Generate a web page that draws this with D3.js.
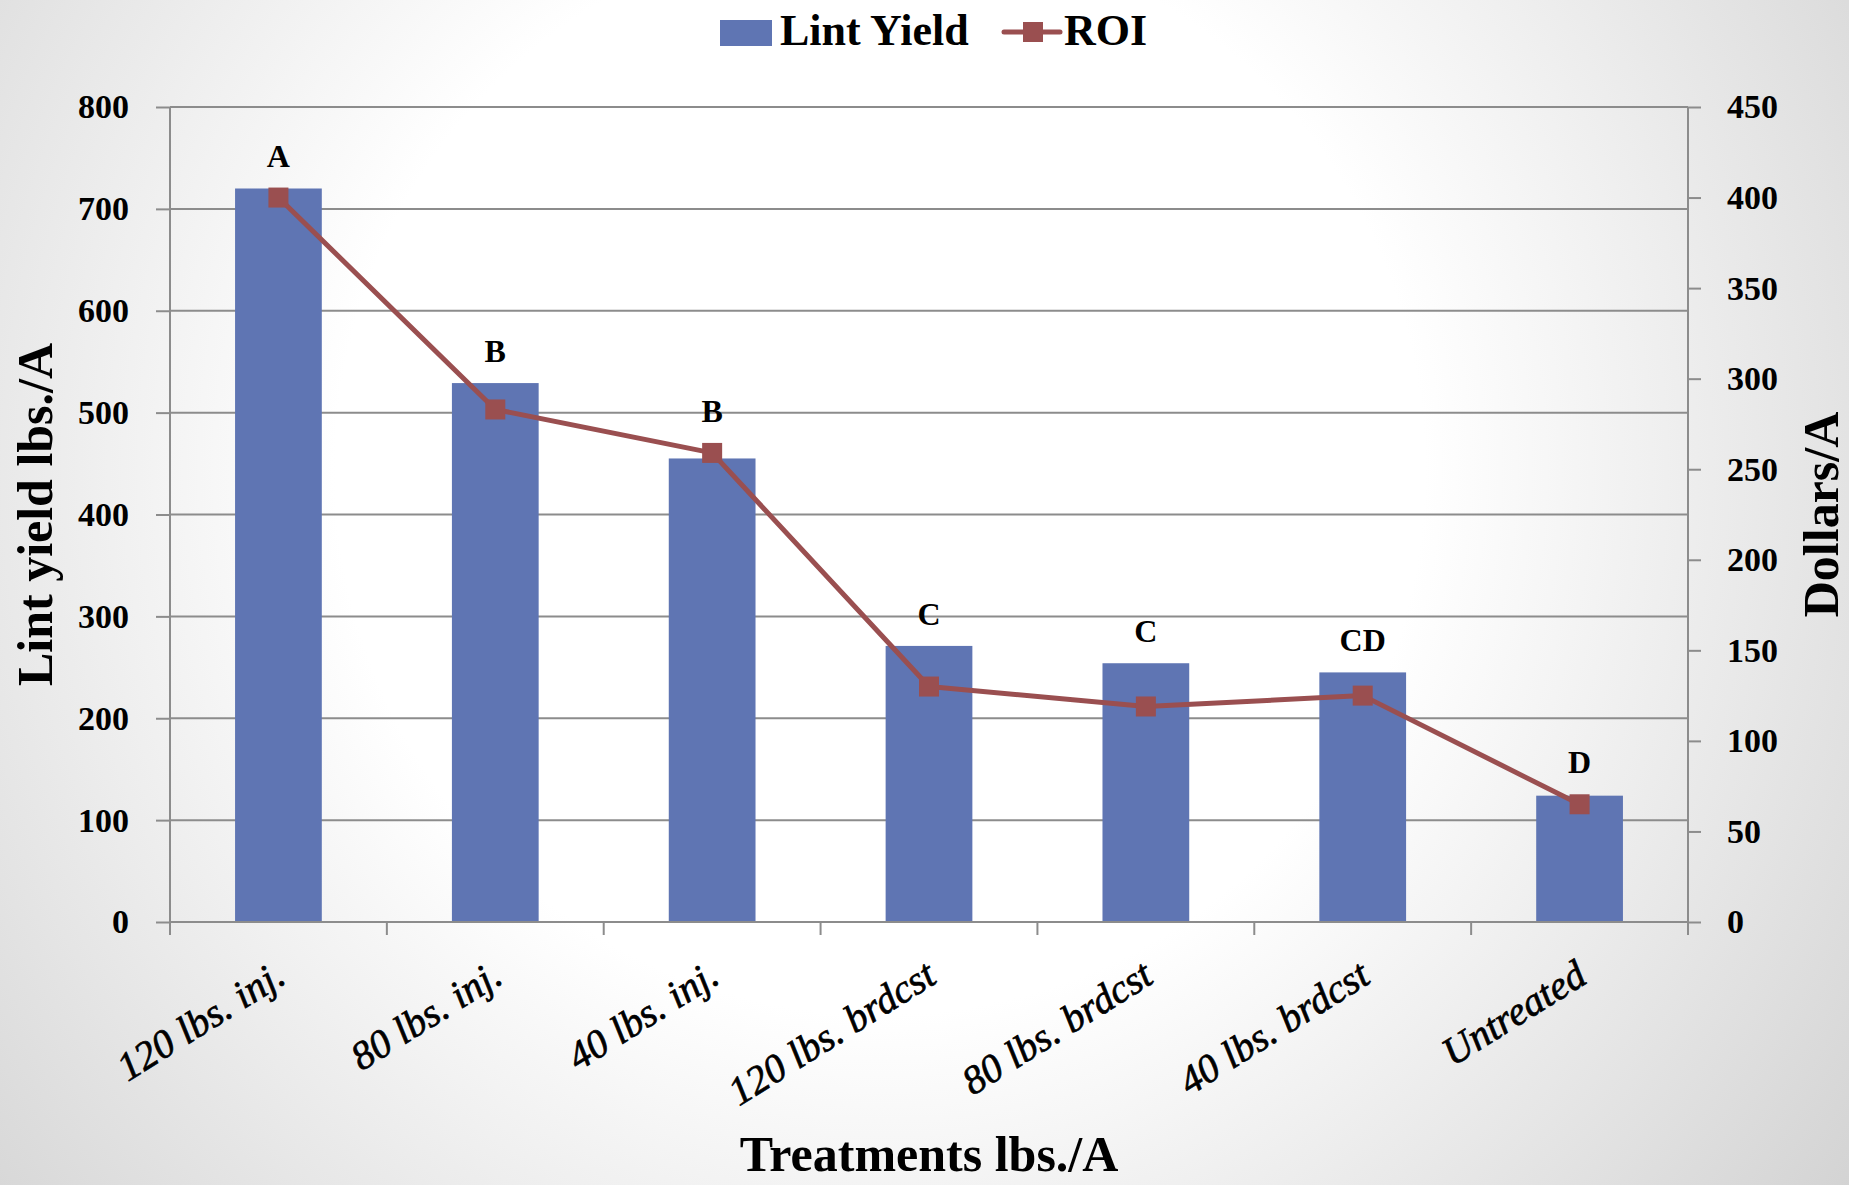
<!DOCTYPE html>
<html>
<head>
<meta charset="utf-8">
<script src="https://cdn.jsdelivr.net/npm/d3@7"></script>
<style>
  html, body { margin: 0; padding: 0; background: #ffffff; }
  svg { display: block; }
  text { font-family: "Liberation Serif", "Times New Roman", serif; }
</style>
</head>
<body>
<svg id="chart" width="1849" height="1185"></svg>
<script>
// Treatments and their results
const categories = ["120 lbs. inj.", "80 lbs. inj.", "40 lbs. inj.", "120 lbs. brdcst", "80 lbs. brdcst", "40 lbs. brdcst", "Untreated"];
const lintYield = [720, 529, 455, 271, 254, 245, 124];   // lbs./A
const roi = [400, 283, 259, 130, 119, 125, 65];           // dollars/A
const groupLetters = ["A", "B", "B", "C", "C", "CD", "D"];
const yieldTicks = [0, 100, 200, 300, 400, 500, 600, 700, 800];
const roiTicks = [0, 50, 100, 150, 200, 250, 300, 350, 400, 450];

(function () {
const W = 1849, H = 1185;
const plotLeft = 170, plotRight = 1688, plotTop = 107, plotBottom = 922;
const barColor = "#5f75b3";
const lineColor = "#9a4f50";
const gridColor = "#8c8c8c";

const svg = d3.select("#chart");

// page background: soft radial fade to grey towards the edges
const defs = svg.append("defs");
const grad = defs.append("radialGradient")
  .attr("id", "bg").attr("gradientUnits", "userSpaceOnUse")
  .attr("cx", 880).attr("cy", 470).attr("r", 1210);
grad.append("stop").attr("offset", 0).attr("stop-color", "#ffffff");
grad.append("stop").attr("offset", 0.45).attr("stop-color", "#ffffff");
grad.append("stop").attr("offset", 1).attr("stop-color", "#d3d3d3");
svg.append("rect").attr("width", W).attr("height", H).attr("fill", "url(#bg)");

const x = d3.scaleBand().domain(categories).range([plotLeft, plotRight])
  .paddingInner(0.6).paddingOuter(0.3);
const yL = d3.scaleLinear().domain([0, 800]).range([plotBottom, plotTop]);
const yR = d3.scaleLinear().domain([0, 450]).range([plotBottom, plotTop]);

// horizontal gridlines
svg.append("g").selectAll("line").data(yieldTicks.filter(d => d > 0)).join("line")
  .attr("x1", plotLeft).attr("x2", plotRight)
  .attr("y1", d => yL(d)).attr("y2", d => yL(d))
  .attr("stroke", gridColor).attr("stroke-width", 2);

// bars
svg.append("g").selectAll("rect").data(categories).join("rect")
  .attr("x", d => x(d))
  .attr("width", x.bandwidth())
  .attr("y", (d, i) => yL(lintYield[i]))
  .attr("height", (d, i) => plotBottom - yL(lintYield[i]))
  .attr("fill", barColor);

// left axis
const axL = svg.append("g").attr("transform", `translate(${plotLeft},0)`)
  .call(d3.axisLeft(yL).tickValues(yieldTicks).tickSize(14).tickPadding(27));
// right axis
const axR = svg.append("g").attr("transform", `translate(${plotRight},0)`)
  .call(d3.axisRight(yR).tickValues(roiTicks).tickSize(13).tickPadding(26));
[axL, axR].forEach(ax => {
  ax.select(".domain").attr("stroke", gridColor).attr("stroke-width", 2)
    .attr("d", `M0,${plotTop}V${plotBottom}`);
  ax.selectAll(".tick line").attr("stroke", gridColor).attr("stroke-width", 2);
  ax.selectAll(".tick text")
    .attr("fill", "#000").attr("font-size", 34).attr("font-weight", "bold")
    .attr("font-family", "Liberation Serif, serif");
});

// bottom axis with ticks on category boundaries
const step = x.step();
const boundaries = categories.map(c => x(c) - step * x.paddingInner() / 2)
  .concat([x(categories[categories.length - 1]) + x.bandwidth() + step * x.paddingInner() / 2]);
const axB = svg.append("g");
axB.append("line").attr("x1", plotLeft).attr("x2", plotRight)
  .attr("y1", plotBottom).attr("y2", plotBottom)
  .attr("stroke", gridColor).attr("stroke-width", 2);
axB.selectAll("line.tk").data(boundaries).join("line").attr("class", "tk")
  .attr("x1", d => d).attr("x2", d => d)
  .attr("y1", plotBottom).attr("y2", plotBottom + 13)
  .attr("stroke", gridColor).attr("stroke-width", 2);
axB.selectAll("text").data(categories).join("text")
  .attr("transform", d => `translate(${x(d) + x.bandwidth() / 2 + 2},${plotBottom + 48}) rotate(-32)`)
  .attr("text-anchor", "end")
  .attr("dy", "0.35em")
  .attr("font-size", 40).attr("font-style", "italic")
  .attr("fill", "#000").attr("stroke", "#000").attr("stroke-width", 0.7)
  .text(d => d);

// ROI line and markers
const cx = d => x(d) + x.bandwidth() / 2;
const line = d3.line().x(d => cx(d)).y((d, i) => yR(roi[i]));
svg.append("path").datum(categories)
  .attr("d", line)
  .attr("fill", "none").attr("stroke", lineColor).attr("stroke-width", 5)
  .attr("stroke-linejoin", "round");
svg.append("g").selectAll("rect").data(categories).join("rect")
  .attr("x", d => cx(d) - 10).attr("y", (d, i) => yR(roi[i]) - 10)
  .attr("width", 20).attr("height", 20).attr("fill", lineColor);

// significance letters above each treatment
svg.append("g").selectAll("text").data(categories).join("text")
  .attr("x", d => cx(d))
  .attr("y", (d, i) => Math.min(yL(lintYield[i]), yR(roi[i]) - 10) - 21)
  .attr("text-anchor", "middle")
  .attr("font-size", 32).attr("font-weight", "bold").attr("fill", "#000")
  .text((d, i) => groupLetters[i]);

// axis titles
svg.append("text")
  .attr("transform", `translate(52,${(plotTop + plotBottom) / 2}) rotate(-90)`)
  .attr("text-anchor", "middle")
  .attr("font-size", 50).attr("font-weight", "bold").attr("fill", "#000")
  .text("Lint yield lbs./A");
svg.append("text")
  .attr("transform", `translate(1838,${(plotTop + plotBottom) / 2}) rotate(-90)`)
  .attr("text-anchor", "middle")
  .attr("font-size", 50).attr("font-weight", "bold").attr("fill", "#000")
  .text("Dollars/A");
svg.append("text")
  .attr("x", (plotLeft + plotRight) / 2).attr("y", 1171)
  .attr("text-anchor", "middle")
  .attr("font-size", 50).attr("font-weight", "bold").attr("fill", "#000")
  .text("Treatments lbs./A");

// legend
const lg = svg.append("g");
lg.append("rect").attr("x", 720).attr("y", 20).attr("width", 52).attr("height", 26).attr("fill", barColor);
lg.append("text").attr("x", 780).attr("y", 45)
  .attr("font-size", 44).attr("font-weight", "bold").attr("fill", "#000").text("Lint Yield");
lg.append("line").attr("x1", 1004).attr("x2", 1060).attr("y1", 32).attr("y2", 32)
  .attr("stroke", lineColor).attr("stroke-width", 5).attr("stroke-linecap", "round");
lg.append("rect").attr("x", 1023).attr("y", 22).attr("width", 20).attr("height", 20).attr("fill", lineColor);
lg.append("text").attr("x", 1064).attr("y", 45)
  .attr("font-size", 44).attr("font-weight", "bold").attr("fill", "#000").text("ROI");
})();
</script>
</body>
</html>
